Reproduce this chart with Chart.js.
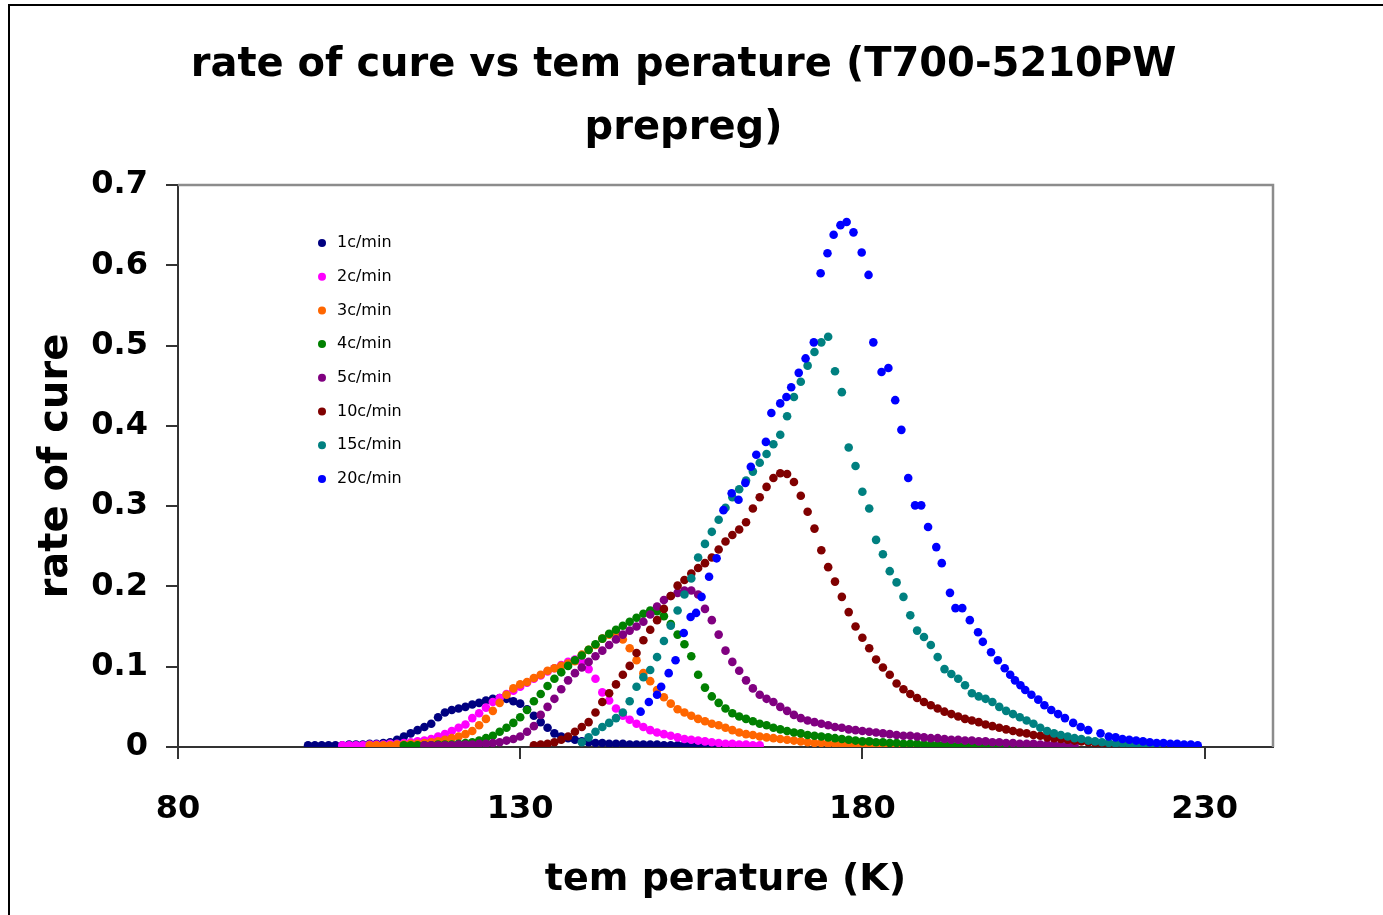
<!DOCTYPE html>
<html>
<head>
<meta charset="utf-8">
<script src="https://cdn.jsdelivr.net/npm/chart.js@4.4.1/dist/chart.umd.min.js"></script>
<style>
  html, body { margin: 0; padding: 0; background: #fff; overflow: hidden; }
  #frame { position: absolute; left: 8px; top: 4px; width: 1420px; height: 960px; border: 2px solid #000; }
  #wrap { position: absolute; left: 0; top: 0; width: 1383px; height: 915px; }
</style>
</head>
<body>
<div id="frame"></div>
<div id="wrap"><canvas id="cure" width="1383" height="915"></canvas></div>
<script>
// heating rates shown in the legend
var seriesLabels = ['1c/min', '2c/min', '3c/min', '4c/min', '5c/min', '10c/min', '15c/min', '20c/min'];
var seriesColors = ['#000080', '#FF00FF', '#FF6600', '#008000', '#800080', '#800000', '#008080', '#0000FF'];

// [temperature, rate of cure]
var rate1 = [[99,.002],[100,.002],[101,.002],[102,.002],[103,.002],[104,.002],[105,.003],[106,.003],[107,.003],[108,.004],[109,.004],[110,.005],[111,.006],[112,.009],[113,.013],[114,.017],[115,.021],[116,.025],[117,.029],[118,.037],[119,.043],[120,.046],[121,.048],[122,.05],[123,.053],[124,.055],[125,.058],[126,.06],[127,.061],[128,.06],[129,.057],[130,.054],[131,.047],[132,.039],[133,.031],[134,.024],[135,.017],[136,.013],[137,.011],[138,.009],[139,.007],[140,.006],[141,.005],[142,.005],[143,.004],[144,.004],[145,.004],[146,.003],[147,.003],[148,.003],[149,.003],[150,.003],[151,.002],[152,.002],[153,.002],[154,.002],[155,.002],[156,.002],[157,.002],[158,.002],[159,.002],[160,.002],[161,.001],[162,.001]];
var rate2 = [[104,.002],[105,.002],[106,.002],[107,.002],[108,.003],[109,.003],[110,.003],[111,.004],[112,.004],[113,.005],[114,.006],[115,.007],[116,.008],[117,.01],[118,.013],[119,.016],[120,.02],[121,.024],[122,.028],[123,.036],[124,.042],[125,.049],[126,.056],[127,.061],[128,.066],[129,.07],[130,.075],[131,.08],[132,.085],[133,.089],[134,.094],[135,.098],[136,.102],[137,.106],[138,.109],[139,.106],[140,.097],[141,.085],[142,.068],[143,.058],[144,.048],[145,.039],[146,.034],[147,.029],[148,.025],[149,.021],[150,.018],[151,.016],[152,.014],[153,.012],[154,.01],[155,.009],[156,.008],[157,.007],[158,.006],[159,.005],[160,.004],[161,.004],[162,.003],[163,.003],[164,.002],[165,.002]];
var rate3 = [[108,.002],[109,.002],[110,.002],[111,.002],[112,.003],[113,.003],[114,.004],[115,.004],[116,.005],[117,.006],[118,.007],[119,.009],[120,.011],[121,.013],[122,.016],[123,.02],[124,.027],[125,.035],[126,.045],[127,.055],[128,.065],[129,.073],[130,.078],[131,.081],[132,.086],[133,.09],[134,.095],[135,.098],[136,.101],[137,.104],[138,.107],[139,.115],[140,.121],[141,.127],[142,.135],[143,.14],[144,.141],[145,.134],[146,.123],[147,.108],[148,.092],[149,.082],[150,.071],[151,.062],[152,.054],[153,.047],[154,.043],[155,.039],[156,.035],[157,.032],[158,.029],[159,.027],[160,.024],[161,.021],[162,.018],[163,.016],[164,.015],[165,.013],[166,.012],[167,.011],[168,.01],[169,.009],[170,.008],[171,.007],[172,.006],[173,.005],[174,.005],[175,.004],[176,.004],[177,.003],[178,.003],[179,.002],[180,.002],[181,.002],[182,.002],[183,.002],[184,.001],[185,.001],[186,.001],[187,.001],[188,.001],[189,.001],[190,.001],[191,.001]];
var rate4 = [[113,.002],[114,.002],[115,.002],[116,.002],[117,.002],[118,.003],[119,.003],[120,.003],[121,.004],[122,.005],[123,.006],[124,.008],[125,.011],[126,.014],[127,.019],[128,.024],[129,.03],[130,.037],[131,.046],[132,.057],[133,.066],[134,.076],[135,.085],[136,.093],[137,.101],[138,.108],[139,.114],[140,.121],[141,.128],[142,.135],[143,.141],[144,.146],[145,.151],[146,.156],[147,.161],[148,.166],[149,.17],[150,.169],[151,.163],[152,.153],[153,.14],[154,.128],[155,.113],[156,.09],[157,.074],[158,.063],[159,.055],[160,.048],[161,.042],[162,.038],[163,.035],[164,.032],[165,.029],[166,.027],[167,.024],[168,.022],[169,.02],[170,.018],[171,.017],[172,.015],[173,.014],[174,.013],[175,.012],[176,.011],[177,.01],[178,.009],[179,.008],[180,.007],[181,.007],[182,.006],[183,.006],[184,.005],[185,.005],[186,.004],[187,.004],[188,.004],[189,.003],[190,.003],[191,.003],[192,.003],[193,.002],[194,.002],[195,.002],[196,.002],[197,.002],[198,.002],[199,.001],[200,.001],[201,.001],[202,.001],[203,.001],[204,.001]];
var rate5 = [[116,.002],[117,.002],[118,.002],[119,.002],[120,.002],[121,.003],[122,.003],[123,.003],[124,.004],[125,.004],[126,.005],[127,.006],[128,.008],[129,.01],[130,.013],[131,.019],[132,.026],[133,.04],[134,.05],[135,.06],[136,.072],[137,.083],[138,.092],[139,.099],[140,.106],[141,.113],[142,.12],[143,.127],[144,.134],[145,.14],[146,.145],[147,.15],[148,.156],[149,.165],[150,.175],[151,.183],[152,.188],[153,.192],[154,.195],[155,.195],[156,.19],[157,.172],[158,.158],[159,.14],[160,.12],[161,.106],[162,.095],[163,.083],[164,.073],[165,.065],[166,.06],[167,.056],[168,.05],[169,.045],[170,.04],[171,.036],[172,.033],[173,.031],[174,.029],[175,.027],[176,.025],[177,.024],[178,.022],[179,.021],[180,.02],[181,.019],[182,.018],[183,.017],[184,.016],[185,.015],[186,.014],[187,.014],[188,.013],[189,.012],[190,.011],[191,.011],[192,.01],[193,.009],[194,.009],[195,.008],[196,.008],[197,.007],[198,.007],[199,.006],[200,.006],[201,.005],[202,.005],[203,.004],[204,.004],[205,.004],[206,.003],[207,.003],[208,.003],[209,.002],[210,.002],[211,.002]];
var rate10 = [[132,.002],[133,.003],[134,.004],[135,.006],[136,.009],[137,.013],[138,.019],[139,.025],[140,.031],[141,.043],[142,.056],[143,.067],[144,.078],[145,.09],[146,.101],[147,.117],[148,.133],[149,.146],[150,.158],[151,.172],[152,.188],[153,.201],[154,.208],[155,.216],[156,.223],[157,.229],[158,.236],[159,.246],[160,.256],[161,.264],[162,.271],[163,.28],[164,.297],[165,.311],[166,.324],[167,.335],[168,.341],[169,.34],[170,.33],[171,.313],[172,.293],[173,.272],[174,.245],[175,.224],[176,.206],[177,.187],[178,.168],[179,.15],[180,.136],[181,.123],[182,.109],[183,.099],[184,.09],[185,.079],[186,.072],[187,.066],[188,.061],[189,.056],[190,.052],[191,.048],[192,.044],[193,.041],[194,.038],[195,.035],[196,.033],[197,.031],[198,.028],[199,.026],[200,.024],[201,.022],[202,.02],[203,.018],[204,.017],[205,.015],[206,.014],[207,.012],[208,.011],[209,.01],[210,.009],[211,.008],[212,.007],[213,.006],[214,.005],[215,.004],[216,.004],[217,.003],[218,.003],[219,.002],[220,.002],[221,.002],[222,.001],[223,.001]];
var rate15 = [[139,.006],[140,.012],[141,.019],[142,.025],[143,.03],[144,.036],[145,.043],[146,.057],[147,.075],[148,.087],[149,.096],[150,.112],[151,.132],[152,.151],[153,.17],[154,.19],[155,.21],[156,.236],[157,.253],[158,.268],[159,.283],[160,.298],[161,.311],[162,.321],[163,.332],[164,.343],[165,.354],[166,.365],[167,.377],[168,.389],[169,.412],[170,.436],[171,.455],[172,.475],[173,.492],[174,.504],[175,.511],[176,.468],[177,.442],[178,.373],[179,.35],[180,.318],[181,.297],[182,.258],[183,.24],[184,.219],[185,.205],[186,.187],[187,.164],[188,.145],[189,.137],[190,.127],[191,.112],[192,.097],[193,.091],[194,.085],[195,.077],[196,.067],[197,.063],[198,.06],[199,.056],[200,.05],[201,.045],[202,.041],[203,.037],[204,.033],[205,.029],[206,.024],[207,.02],[208,.017],[209,.015],[210,.013],[211,.011],[212,.01],[213,.008],[214,.007],[215,.006],[216,.005],[217,.004],[218,.004],[219,.003],[220,.003],[221,.002],[222,.002],[223,.001]];
var rate20 = [[147.6,.044],[148.8,.056],[150,.065],[150.6,.075],[151.7,.092],[152.7,.108],[153.9,.142],[154.9,.162],[155.7,.167],[156.5,.187],[157.6,.212],[158.7,.235],[159.7,.295],[160.9,.316],[161.9,.308],[162.9,.329],[163.7,.349],[164.5,.364],[165.9,.38],[166.7,.416],[168,.428],[168.9,.436],[169.6,.448],[170.7,.466],[171.7,.484],[172.9,.504],[173.9,.59],[174.9,.615],[175.8,.638],[176.8,.65],[177.7,.654],[178.7,.641],[179.9,.616],[180.9,.588],[181.6,.504],[182.8,.467],[183.8,.472],[184.8,.432],[185.7,.395],[186.7,.335],[187.7,.301],[188.6,.301],[189.6,.274],[190.8,.249],[191.6,.229],[192.8,.192],[193.6,.173],[194.6,.173],[195.7,.158],[196.9,.143],[197.6,.131],[198.8,.118],[199.8,.108],[200.8,.098],[201.6,.09],[202.3,.083],[203.1,.077],[203.8,.071],[204.7,.065],[205.7,.059],[206.6,.052],[207.6,.046],[208.6,.041],[209.6,.036],[210.8,.03],[211.9,.025],[213,.021],[214.8,.017],[216,.013],[217,.012],[218,.01],[219,.009],[220,.008],[221,.007],[222,.006],[223,.005],[224,.005],[225,.004],[226,.004],[227,.003],[228,.003],[229,.002]];

var seriesData = [rate1, rate2, rate3, rate4, rate5, rate10, rate15, rate20];

var xTicks = [80, 130, 180, 230];
var yTicks = [0, 0.1, 0.2, 0.3, 0.4, 0.5, 0.6, 0.7];

var datasets = seriesData.map(function (pts, i) {
  return {
    label: seriesLabels[i],
    data: pts.map(function (p) { return { x: p[0], y: p[1] }; }),
    backgroundColor: seriesColors[i],
    borderColor: seriesColors[i],
    pointRadius: 4.3,
    pointBorderWidth: 0,
    order: seriesData.length - i
  };
});

// grey frame on the top and right of the plot area
var plotFrame = {
  id: 'plotFrame',
  beforeDatasetsDraw: function (chart) {
    var ctx = chart.ctx, a = chart.chartArea;
    ctx.save();
    ctx.strokeStyle = '#8c8c8c';
    ctx.lineWidth = 2.5;
    ctx.beginPath();
    ctx.moveTo(a.left, a.top);
    ctx.lineTo(a.right, a.top);
    ctx.lineTo(a.right, a.bottom);
    ctx.stroke();
    ctx.restore();
  }
};

// legend sits inside the plot, top left
var innerLegend = {
  id: 'innerLegend',
  afterDraw: function (chart) {
    var ctx = chart.ctx, a = chart.chartArea;
    ctx.save();
    ctx.font = '16px "DejaVu Sans"';
    ctx.textBaseline = 'middle';
    chart.data.datasets.forEach(function (ds, i) {
      var y = a.top + 58 + i * 33.7;
      ctx.fillStyle = ds.backgroundColor;
      ctx.beginPath();
      ctx.arc(a.left + 144, y, 4, 0, Math.PI * 2);
      ctx.fill();
      ctx.fillStyle = '#000';
      ctx.fillText(ds.label, a.left + 159, y);
    });
    ctx.restore();
  }
};

Chart.defaults.color = '#000';
Chart.defaults.font.family = '"DejaVu Sans"';

var ctx = document.getElementById('cure').getContext('2d');
var chart = new Chart(ctx, {
  type: 'scatter',
  data: { datasets: datasets },
  options: {
    responsive: false,
    animation: false,
    layout: { padding: { left: 0, right: 16, top: 0, bottom: 0 } },
    plugins: {
      legend: { display: false },
      tooltip: { enabled: false },
      title: {
        display: true,
        text: ['rate of cure vs tem perature (T700-5210PW', 'prepreg)'],
        font: { size: 40, weight: 'bold', lineHeight: 1.575 },
        color: '#000',
        padding: { top: 34, bottom: 25 }
      }
    },
    scales: {
      x: {
        type: 'linear',
        min: 80,
        max: 240,
        afterBuildTicks: function (scale) {
          scale.ticks = xTicks.map(function (v) { return { value: v }; });
        },
        afterFit: function (scale) { scale.height = 168; },
        ticks: { font: { size: 32, weight: 'bold' }, padding: 31, maxRotation: 0 },
        grid: { drawOnChartArea: false, drawTicks: true, tickLength: 12, color: '#333', lineWidth: 2 },
        border: { display: true, color: '#333', width: 2 },
        title: {
          display: true,
          text: 'tem perature (K)',
          font: { size: 38, weight: 'bold' },
          padding: { top: 0, bottom: 12 }
        }
      },
      y: {
        type: 'linear',
        min: 0,
        max: 0.7,
        afterBuildTicks: function (scale) {
          scale.ticks = yTicks.map(function (v) { return { value: v }; });
        },
        afterFit: function (scale) { scale.width = 178; },
        ticks: { font: { size: 32, weight: 'bold' }, padding: 18 },
        grid: { drawOnChartArea: false, drawTicks: true, tickLength: 12, color: '#333', lineWidth: 2 },
        border: { display: true, color: '#333', width: 2 },
        title: {
          display: true,
          text: 'rate of cure',
          font: { size: 40, weight: 'bold' },
          padding: { top: 33, bottom: 0 }
        }
      },
      pad: {
        type: 'linear',
        position: 'right',
        display: true,
        afterFit: function (scale) { scale.width = 94; },
        ticks: { display: false },
        grid: { display: false },
        border: { display: false }
      }
    }
  },
  plugins: [plotFrame, innerLegend]
});
</script>
</body>
</html>
